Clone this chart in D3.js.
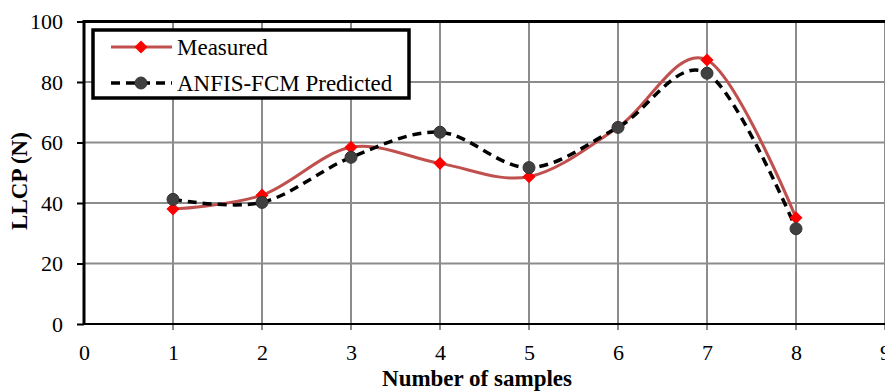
<!DOCTYPE html>
<html>
<head>
<meta charset="utf-8">
<script src="https://cdn.jsdelivr.net/npm/d3@7"></script>
<style>
    body { margin: 0; background: #fff; }
    svg { display: block; font-family: "Liberation Serif", "Times New Roman", serif; }
</style>
</head>
<body>
<div id="chart"></div>
<script>
let samples = [1, 2, 3, 4, 5, 6, 7, 8],
    measured = [38, 42.6, 58.4, 53.1, 48.7, 65, 87.3, 35.1],
    predicted = [41.2, 40.2, 55.1, 63.4, 51.7, 65, 82.9, 31.5],
    xTicks = [0, 1, 2, 3, 4, 5, 6, 7, 8, 9],
    yTicks = [0, 20, 40, 60, 80, 100],
    legendNames = ['Measured', 'ANFIS-FCM Predicted'];

let width = 885,
    height = 392,
    margin = {top: 21.5, right: 0, bottom: 68, left: 84},
    w = width - margin.left - margin.right,
    h = height - margin.top - margin.bottom;

let svg = d3.select('#chart').append('svg')
    .attr('width', width)
    .attr('height', height);

let g = svg.append('g')
    .attr('transform', 'translate(' + margin.left + ',' + margin.top + ')');

let x = d3.scaleLinear().domain([0, 9]).range([0, w]),
    y = d3.scaleLinear().domain([0, 100]).range([h, 0]);

// grid
g.append('g').selectAll('line')
    .data(yTicks.filter(d => d > 0 && d < 100))
    .enter().append('line')
    .attr('x1', 0).attr('x2', w)
    .attr('y1', d => y(d)).attr('y2', d => y(d))
    .style('stroke', '#8c8c8c').style('stroke-width', 2);

g.append('g').selectAll('line')
    .data(xTicks.filter(d => d > 0))
    .enter().append('line')
    .attr('x1', d => x(d)).attr('x2', d => x(d))
    .attr('y1', 0).attr('y2', h + 6)
    .style('stroke', '#8c8c8c').style('stroke-width', 2);

// axes
let yAxis = d3.axisLeft(y).tickValues(yTicks).tickSize(7).tickPadding(14);
let xAxis = d3.axisBottom(x).tickValues(xTicks).tickSize(0).tickPadding(20);

let ya = g.append('g').call(yAxis);
ya.select('.domain').remove();
ya.selectAll('line').style('stroke', '#000').style('stroke-width', 2);
ya.selectAll('text').style('font-size', '22px').style('font-family', 'Liberation Serif').style('fill', '#000');

let xa = g.append('g').attr('transform', 'translate(0,' + h + ')').call(xAxis);
xa.select('.domain').remove();
xa.selectAll('text').style('font-size', '22px').style('font-family', 'Liberation Serif').style('fill', '#000');

// frame
g.append('line').attr('x1', 0).attr('x2', w).attr('y1', h).attr('y2', h)
    .style('stroke', '#000').style('stroke-width', 2);
g.append('line').attr('x1', 0).attr('x2', w).attr('y1', 0).attr('y2', 0)
    .style('stroke', '#000').style('stroke-width', 3);
g.append('line').attr('x1', 0).attr('x2', 0).attr('y1', -1.5).attr('y2', h + 1)
    .style('stroke', '#000').style('stroke-width', 3);

// lines
let line = d3.line()
    .x((d, i) => x(samples[i]))
    .y(d => y(d))
    .curve(d3.curveCardinal.tension(0));

g.append('path')
    .datum(measured)
    .attr('d', line)
    .style('fill', 'none')
    .style('stroke', '#c0504d')
    .style('stroke-width', 3);

g.append('path')
    .datum(predicted)
    .attr('d', line)
    .style('fill', 'none')
    .style('stroke', '#000')
    .style('stroke-width', 3.5)
    .style('stroke-dasharray', '9,6');

// rotated square = diamond, about 12px across
let diamond = d3.symbol().type(d3.symbolSquare).size(60);

g.append('g').selectAll('path')
    .data(measured)
    .enter().append('path')
    .attr('d', diamond)
    .attr('transform', (d, i) => 'translate(' + x(samples[i]) + ',' + y(d) + ') rotate(45)')
    .style('fill', '#ff0000')
    .style('stroke', '#ff0000')
    .style('stroke-width', 1.5);

g.append('g').selectAll('circle')
    .data(predicted)
    .enter().append('circle')
    .attr('cx', (d, i) => x(samples[i]))
    .attr('cy', d => y(d))
    .attr('r', 6)
    .style('fill', '#404040')
    .style('stroke', '#333')
    .style('stroke-width', 1);

// legend
let lg = svg.append('g').attr('transform', 'translate(93,30)');
lg.append('rect')
    .attr('width', 316).attr('height', 68)
    .style('fill', '#fff').style('stroke', '#000').style('stroke-width', 3.5);

lg.append('line').attr('x1', 18).attr('x2', 79).attr('y1', 17).attr('y2', 17)
    .style('stroke', '#c0504d').style('stroke-width', 3);
lg.append('path').attr('d', diamond)
    .attr('transform', 'translate(48,17) rotate(45)')
    .style('fill', '#ff0000').style('stroke', '#ff0000').style('stroke-width', 1.5);
lg.append('line').attr('x1', 18).attr('x2', 79).attr('y1', 53).attr('y2', 53)
    .style('stroke', '#000').style('stroke-width', 3.5).style('stroke-dasharray', '9,6');
lg.append('circle').attr('cx', 48).attr('cy', 53).attr('r', 6)
    .style('fill', '#404040').style('stroke', '#333');

lg.selectAll('text.lg')
    .data(legendNames)
    .enter().append('text')
    .attr('class', 'lg')
    .attr('x', 84)
    .attr('y', (d, i) => 17 + i * 36)
    .attr('dy', '0.35em')
    .style('font-size', '23px')
    .text(d => d);

// titles
svg.append('text')
    .attr('x', 477)
    .attr('y', 386)
    .attr('text-anchor', 'middle')
    .style('font-size', '23px')
    .style('font-weight', 'bold')
    .text('Number of samples');

svg.append('text')
    .attr('transform', 'translate(27,181) rotate(-90)')
    .attr('text-anchor', 'middle')
    .style('font-size', '23px')
    .style('font-weight', 'bold')
    .text('LLCP (N)');
</script>
</body>
</html>
